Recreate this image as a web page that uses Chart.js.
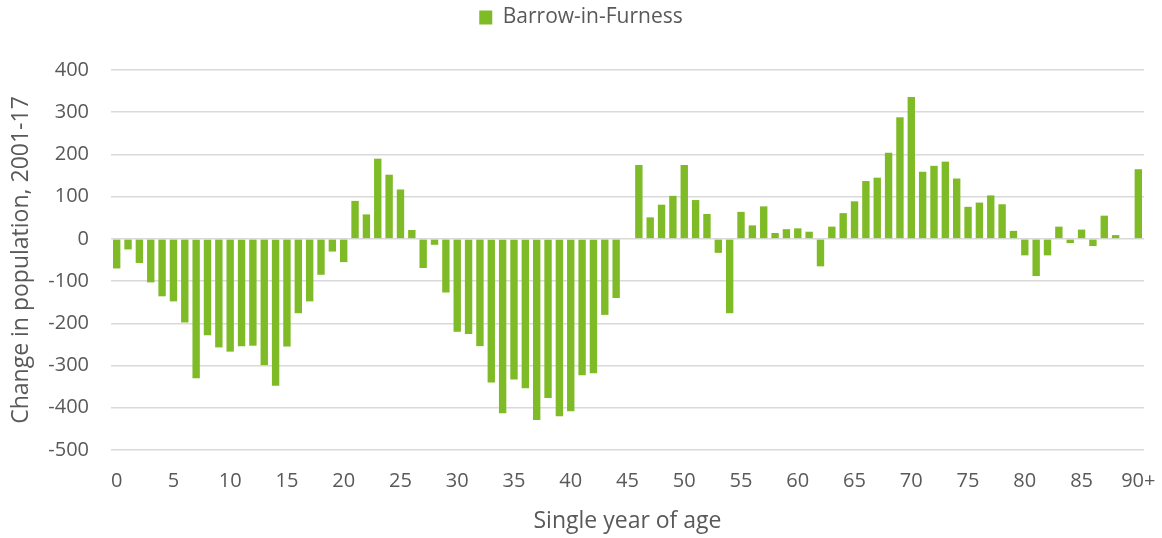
<!DOCTYPE html>
<html>
<head>
<meta charset="utf-8">
<style>
  html, body { margin: 0; padding: 0; background: #ffffff; }
  #wrap { width: 1162px; height: 538px; }
</style>
<script src="https://cdn.jsdelivr.net/npm/chart.js@4/dist/chart.umd.min.js"></script>
</head>
<body>
<div id="wrap"><canvas id="chart" width="1162" height="538"></canvas></div>
<script>
// Single year of age, 0..89 then 90+
const ages = [];
for (let a = 0; a < 90; a++) ages.push(String(a));
ages.push("90+");

// Change in population 2001-17
const changeAges0to22 = [-70, -25, -57, -103, -136, -148, -198, -330, -228, -257,
  -267, -254, -253, -299, -348, -255, -176, -148, -85, -30, -55, 90, 58];
const changeAges23to45 = [190, 152, 117, 21, -69, -14, -127, -220, -225, -254,
  -340, -413, -333, -354, -429, -377, -420, -408, -323, -318, -180, -140, 0];
const changeAges46to68 = [175, 51, 81, 102, 175, 92, 59, -33, -176, 64,
  32, 77, 14, 23, 25, 17, -65, 29, 61, 89, 137, 145, 204];
const changeAges69plus = [288, 336, 159, 173, 183, 143, 76, 86, 103, 82,
  19, -39, -88, -39, 29, -10, 22, -17, 55, 9, 0, 165];

const barrowChange = [].concat(changeAges0to22, changeAges23to45, changeAges46to68, changeAges69plus);

const yTickMin = -500;
const yTickMax = 400;
const yTickStep = 100;

const textGrey = "#595959";
const barGreen = "#7fba27";
const gridGrey = "#d9d9d9";
const fontFamily = "'Open Sans', sans-serif";

// Legend sits at the very top but the plot starts lower, so stretch the legend box.
const legendGap = {
  id: "legendGap",
  afterInit(chart) {
    const legend = chart.legend;
    if (!legend) return;
    const fit = legend.fit;
    legend.fit = function () {
      fit.call(this);
      this.height = 70;
    };
  }
};

new Chart(document.getElementById("chart"), {
  type: "bar",
  data: {
    labels: ages,
    datasets: [{
      label: "Barrow-in-Furness",
      data: barrowChange,
      backgroundColor: barGreen,
      borderWidth: 0,
      barPercentage: 0.65,
      categoryPercentage: 1.0
    }]
  },
  plugins: [legendGap],
  options: {
    responsive: false,
    animation: false,
    layout: { padding: 0 },
    plugins: {
      legend: {
        position: "top",
        labels: {
          color: textGrey,
          font: { family: fontFamily, size: 21 },
          boxWidth: 13,
          boxHeight: 14,
          padding: 7
        }
      },
      tooltip: { enabled: false }
    },
    scales: {
      x: {
        grid: { display: false, drawTicks: false },
        border: { display: false },
        ticks: {
          color: textGrey,
          font: { family: fontFamily, size: 20 },
          autoSkip: false,
          maxRotation: 0,
          padding: 19,
          callback: function (value, index) {
            return (index % 5 === 0) ? ages[index] : "";
          }
        },
        title: {
          display: true,
          text: "Single year of age",
          color: textGrey,
          font: { family: fontFamily, size: 23 },
          padding: { top: 0, bottom: 3 }
        },
        afterFit: function (scale) {
          scale.height = 88;
          scale.paddingLeft = 0;
          scale.paddingRight = 18;
        }
      },
      y: {
        min: yTickMin,
        max: yTickMax,
        grid: { color: gridGrey, lineWidth: 1.5, drawTicks: false },
        border: { display: false },
        ticks: {
          stepSize: yTickStep,
          color: textGrey,
          font: { family: fontFamily, size: 20 },
          padding: 22
        },
        title: {
          display: true,
          text: "Change in population, 2001-17",
          color: textGrey,
          font: { family: fontFamily, size: 23 },
          padding: { top: 8, bottom: 0 }
        },
        afterFit: function (scale) {
          scale.width = 111;
          scale.paddingBottom = 0;
        }
      }
    }
  }
});
</script>
</body>
</html>
